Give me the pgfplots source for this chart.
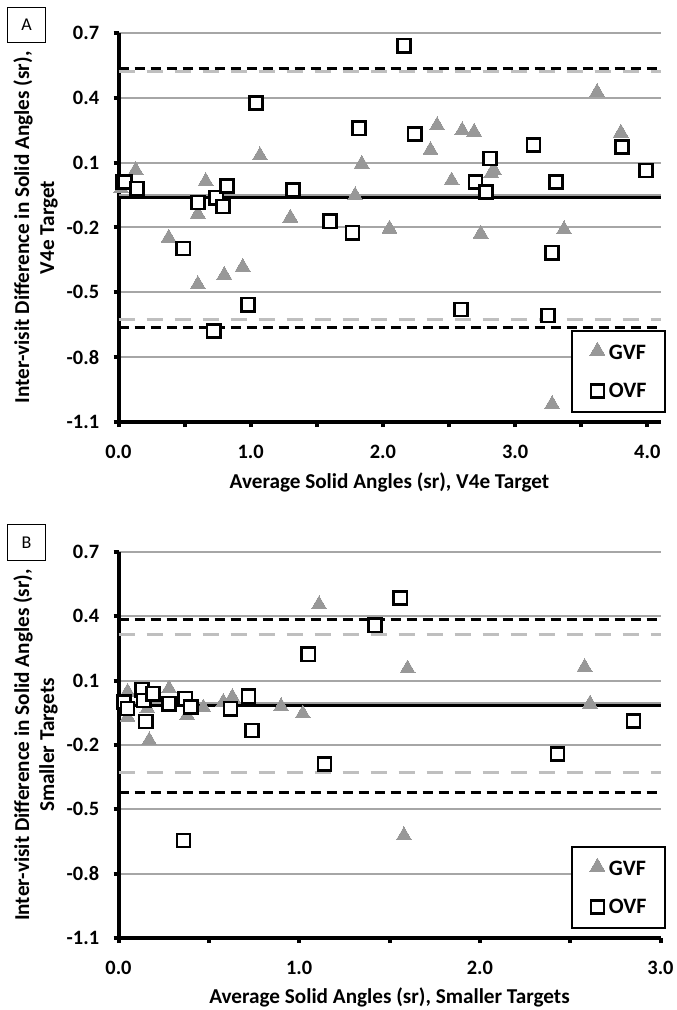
\documentclass[border=0pt]{standalone}
\usepackage{pgfplots}
\pgfplotsset{compat=1.18}
\usepackage{fontspec}
\setmainfont{Carlito}

\definecolor{gridgray}{RGB}{166,166,166}
\definecolor{markgray}{RGB}{152,152,152}
\definecolor{limgray}{RGB}{191,191,191}
\definecolor{meangray}{RGB}{160,160,160}

\pgfplotsset{
  bland/.style={
    scale only axis, width=271pt,
    axis x line*=bottom, axis y line*=left,
    x axis line style={line width=2.4pt},
    y axis line style={line width=2pt},
    tick align=outside, major tick length=2.5pt,
    every tick/.style={black, line width=2pt},
    ymin=-1.1, ymax=0.7,
    ytick={-1.1,-0.8,-0.5,-0.2,0.1,0.4,0.7},
    yticklabels={-1.1,-0.8,-0.5,-0.2,0.1,0.4,0.7},
    ymajorgrids, major grid style={gridgray, line width=1pt},
    ticklabel style={font=\fontsize{10.2}{12}\selectfont\bfseries, inner sep=0pt},
    yticklabel style={anchor=east, xshift=-7pt},
    xticklabel style={anchor=north, yshift=-8.8pt},
    label style={font=\fontsize{10.6}{12.5}\selectfont\bfseries, align=center},
    clip=false,
    legend style={at={(1,0)}, anchor=south east, xshift=2.5pt, yshift=4.6pt,
      draw=black, line width=1pt, font=\fontsize{11}{13}\selectfont\bfseries,
      inner xsep=9pt, inner ysep=5.5pt, row sep=10.5pt, column sep=2pt,
      nodes={inner sep=0pt}},
    legend cell align=left,
  },
  gvf/.style={markgray, only marks, mark=triangle*, mark size=4.3pt,
    mark options={fill=markgray, draw=markgray, line width=0pt},
    legend image code/.code={\draw[##1] plot coordinates {(0.13cm,0.05cm)};}},
  ovf/.style={black, only marks, mark=square*, mark size=3.3pt,
    mark options={fill=white, draw=black, line width=1.3pt},
    legend image code/.code={\draw[##1] plot coordinates {(0.13cm,0.02cm)};}},
  limg/.style={limgray, line width=1.5pt, dash pattern=on 8pt off 6pt, forget plot},
  limb/.style={black, line width=1.5pt, dash pattern=on 5pt off 3pt, forget plot},
  meang/.style={meangray, line width=1pt, forget plot},
  meanb/.style={black, line width=1.6pt, forget plot},
}

\begin{document}
\begin{tikzpicture}
\path[use as bounding box] (0,0) rectangle (338pt,-505pt);

% ---- panel A
\begin{axis}[bland, at={(59.25pt,-211pt)}, anchor=south west, height=194.5pt,
  xmin=0, xmax=4.1,
  xtick={0,0.5,1,1.5,2,2.5,3,3.5,4},
  xticklabels={0.0,,1.0,,2.0,,3.0,,4.0},
  xlabel={Average Solid Angles (sr), V4e Target},
  xlabel style={at={(axis description cs:0.5,-0.155)}, anchor=center},
  ylabel={Inter-visit Difference in Solid Angles (sr),\\V4e Target},
  ylabel style={at={(axis description cs:-0.153,0.5)}, anchor=center},
]
\addplot[limg] coordinates {(0,0.52) (4.1,0.52)};
\addplot[limg] coordinates {(0,-0.628) (4.1,-0.628)};
\addplot[meang] coordinates {(0,-0.05) (4.1,-0.05)};
\addplot[limb] coordinates {(0,0.537) (4.1,0.537)};
\addplot[limb] coordinates {(0,-0.664) (4.1,-0.664)};
\addplot[meanb] coordinates {(0,-0.063) (4.1,-0.063)};
\addplot[gvf] coordinates {
(0.02,-0.02) (0.13,0.065) (0.38,-0.248) (0.60,-0.463) (0.60,-0.137)
(0.66,0.014) (0.80,-0.42) (0.94,-0.383) (1.07,0.133) (1.30,-0.155)
(1.79,-0.052) (1.84,0.094) (2.05,-0.206) (2.36,0.158) (2.41,0.272)
(2.52,0.017) (2.60,0.249) (2.69,0.242) (2.74,-0.229) (2.82,0.050)
(2.84,0.065) (3.28,-1.018) (3.37,-0.209) (3.62,0.426) (3.80,0.238)
};
\addplot[ovf] coordinates {
(0.03,0.01) (0.05,0.01) (0.14,-0.02) (0.49,-0.297) (0.60,-0.084)
(0.74,-0.062) (0.72,-0.679) (0.79,-0.103) (0.82,-0.008) (0.98,-0.557)
(1.04,0.376) (1.32,-0.027) (1.60,-0.171) (1.77,-0.224) (1.82,0.259)
(2.16,0.641) (2.24,0.232) (2.59,-0.579) (2.70,0.010) (2.78,-0.036)
(2.81,0.119) (3.14,0.181) (3.25,-0.607) (3.28,-0.317) (3.31,0.010)
(3.81,0.172) (3.99,0.064)
};
\legend{GVF,OVF}
\end{axis}

% ---- panel B
\begin{axis}[bland, at={(59.25pt,-469pt)}, anchor=south west, height=193pt,
  xmin=0, xmax=3,
  xtick={0,0.5,1,1.5,2,2.5,3},
  xticklabels={0.0,,1.0,,2.0,,3.0},
  xlabel={Average Solid Angles (sr), Smaller Targets},
  xlabel style={at={(axis description cs:0.5,-0.155)}, anchor=center},
  ylabel={Inter-visit Difference in Solid Angles (sr),\\Smaller Targets},
  ylabel style={at={(axis description cs:-0.153,0.5)}, anchor=center},
]
\addplot[limg] coordinates {(0,0.316) (3,0.316)};
\addplot[limg] coordinates {(0,-0.326) (3,-0.326)};
\addplot[meang] coordinates {(0,-0.005) (3,-0.005)};
\addplot[limb] coordinates {(0,0.386) (3,0.386)};
\addplot[limb] coordinates {(0,-0.42) (3,-0.42)};
\addplot[meanb] coordinates {(0,-0.017) (3,-0.017)};
\addplot[gvf] coordinates {
(0.05,0.047) (0.05,-0.07) (0.16,-0.03) (0.17,-0.179) (0.28,0.063)
(0.38,-0.062) (0.47,-0.026) (0.58,0.0) (0.63,0.023) (0.90,-0.02)
(1.02,-0.054) (1.11,0.455) (1.58,-0.622) (1.60,0.156) (2.58,0.163)
(2.61,-0.008)
};
\addplot[ovf] coordinates {
(0.03,0.0) (0.05,-0.03) (0.13,0.058) (0.14,0.008) (0.15,-0.09)
(0.19,0.039) (0.28,-0.007) (0.36,-0.645) (0.37,0.016) (0.40,-0.023)
(0.62,-0.031) (0.72,0.027) (0.74,-0.132) (1.05,0.223) (1.14,-0.288)
(1.42,0.358) (1.56,0.485) (2.43,-0.241) (2.85,-0.088)
};
\legend{GVF,OVF}
\end{axis}

\node[draw, line width=0.5pt, minimum width=19.2pt, minimum height=17.7pt,
  inner sep=0pt, font=\fontsize{9}{10}\selectfont] at (13.25pt,-12.5pt) {A};
\node[draw, line width=0.5pt, minimum width=19.2pt, minimum height=17.7pt,
  inner sep=0pt, font=\fontsize{9}{10}\selectfont] at (13.25pt,-271.25pt) {B};
\end{tikzpicture}
\end{document}
